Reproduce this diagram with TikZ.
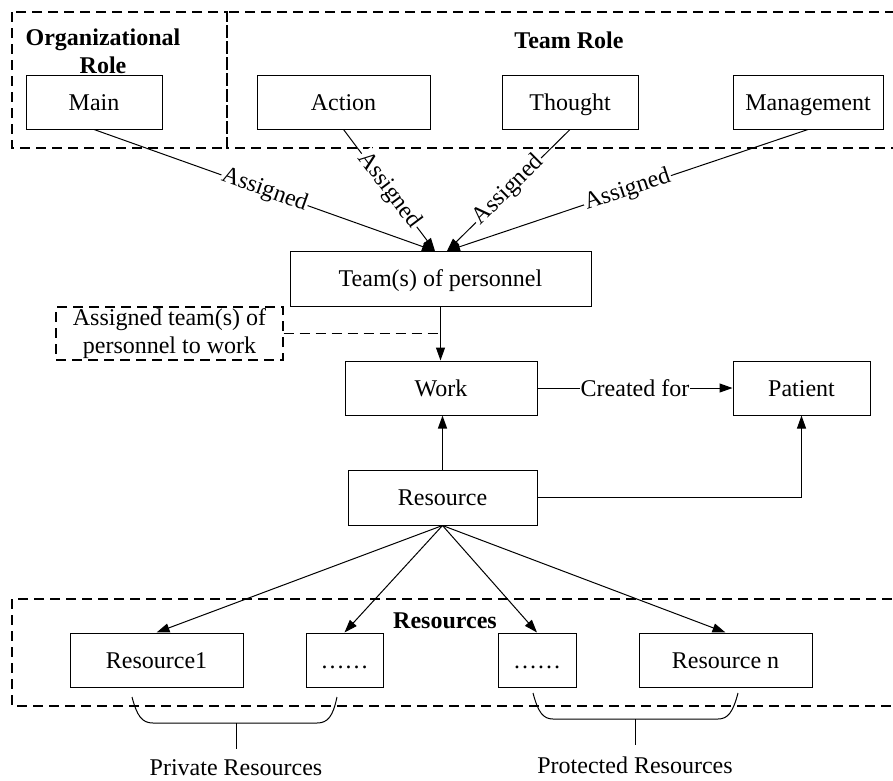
\documentclass[tikz,border=0pt]{standalone}
\usepackage{fontspec}
\setmainfont{Liberation Serif}
\usetikzlibrary{arrows.meta,calc}

\begin{document}
\begin{tikzpicture}[x=1pt,y=-1pt,
  every node/.style={font=\fontsize{24}{28}\selectfont},
  box/.style={draw, line width=1pt, minimum height=54pt, inner sep=0pt,
    text height=16pt, text depth=0pt},
  grp/.style={draw, line width=1.1pt, dash pattern=on 10pt off 6pt},
  link/.style={line width=1pt},
  arr/.style={link, -{Triangle[length=13pt,width=9pt]}},
  lbl/.style={fill=white, inner sep=1pt},
  title/.style={font=\fontsize{24}{28}\selectfont\bfseries, align=center}
]
\useasboundingbox (0,0) rectangle (893,780);

% role groups
\draw[grp] (12,12) rectangle (227,148);
\draw[grp] (227,12) rectangle (905,148);
\node[title] (orgt) at (103,51) {Organizational\\Role};
\node[title] (teamt) at (569,40) {Team Role};

% role boxes
\node[box, minimum width=136pt] (main) at (94,102) {Main};
\node[box, minimum width=173pt] (action) at (343.5,102) {Action};
\node[box, minimum width=136pt] (thought) at (570,102) {Thought};
\node[box, minimum width=150pt] (mgmt) at (808,102) {Management};

% team and work
\node[box, minimum width=301pt, minimum height=55pt] (team) at (440.5,278.5) {Team(s) of personnel};
\node[box, minimum width=192pt] (work) at (441,388) {Work};
\node[box, minimum width=137pt] (patient) at (801.5,388) {Patient};
\node[box, minimum width=189pt, minimum height=55pt] (res) at (442.5,497.5) {Resource};
\node[grp, minimum width=227pt, minimum height=53pt, inner sep=0pt, align=center] (note) at (169.5,333.5) {Assigned team(s) of\\personnel to work};

% assignment arrows
\coordinate (inL) at (435,251);
\coordinate (inR) at (447,251);
\draw[arr] (main.south) -- node[lbl, sloped] {Assigned} (inL);
\draw[arr] (action.south) -- node[lbl, sloped] {Assigned} (inL);
\draw[arr] (thought.south) -- node[lbl, sloped] {Assigned} (inR);
\draw[arr] (mgmt.south) -- node[lbl, sloped] {Assigned} (inR);

\draw[arr] (team.south) -- (team.south |- work.north);
\draw[grp] (note.east) -- (note.east -| team.south);
\draw[arr] (work.east) -- node[lbl] {Created for} (patient.west);
\draw[arr, line width=1.3pt] (res.north) -- (res.north |- work.south);
\draw[arr] (res.east) -| (patient.south);

% resources group
\draw[grp] (12,599) rectangle (905,706);
\node[title] (rest) at (445,621) {Resources};
\node[box, minimum width=173pt] (r1) at (156.5,660) {Resource1};
\node[box, minimum width=77pt] (d1) at (344.5,660) {\ldots\ldots};
\node[box, minimum width=78pt] (d2) at (537,660) {\ldots\ldots};
\node[box, minimum width=173pt] (rn) at (725.5,660) {Resource n};

\draw[arr] (res.south) -- (r1.north);
\draw[arr] (res.south) -- (d1.north);
\draw[arr] (res.south) -- (d2.north);
\draw[arr] (res.south) -- (rn.north);

% braces
\draw[link] (132,697) .. controls (137,716) and (142,723) .. (153,723) -- (317,723)
  .. controls (328,723) and (333,716) .. (337,697);
\draw[link] (236,723) -- (236,749);
\node (priv) at (236,767.5) {Private Resources};
\draw[link] (533,693) .. controls (538,712) and (543,719) .. (553,719) -- (718,719)
  .. controls (728,719) and (733,712) .. (738,693);
\draw[link] (635,719) -- (635,745);
\node (prot) at (635,765) {Protected Resources};
\end{tikzpicture}
\end{document}
